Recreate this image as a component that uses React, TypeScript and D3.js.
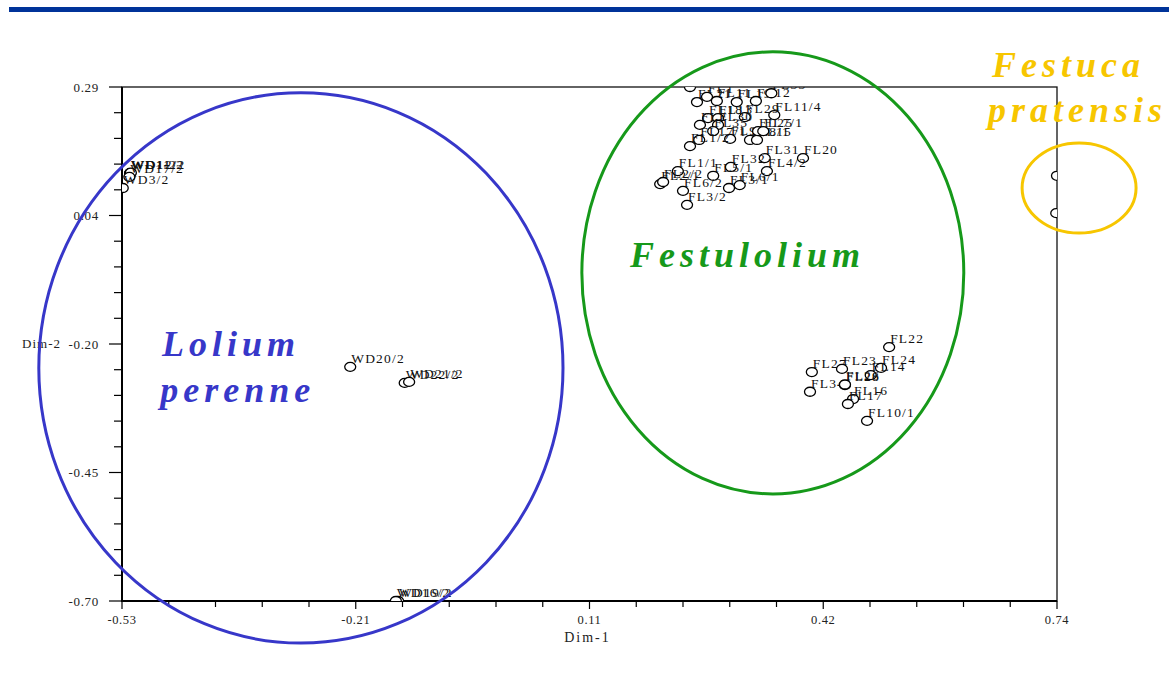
import React from 'react';
import * as d3 from 'd3';

// axis tick labels
const xTickLabels = ['-0.53', '-0.21', '0.11', '0.42', '0.74'];
const yTickLabels = ['0.29', '0.04', '-0.20', '-0.45', '-0.70'];

// Lolium perenne (WD)
const wdNames = ['WD1/2', 'WD11/2', 'WD12/2', 'WD17/2', 'WD3/2', 'WD20/2', 'WD22/2', 'WD21/2', 'WD19/2', 'WD16/2'];
const wdDim1 = [-0.519, -0.519, -0.518, -0.520, -0.529, -0.220, -0.146, -0.140, -0.155, -0.158];
const wdDim2 = [0.124, 0.124, 0.125, 0.117, 0.0955, -0.249, -0.280, -0.278, -0.700, -0.700];

// Festulolium (FL)
const flNames = [
  'FL8', 'FL21', 'FL1', 'FL11', 'FL19', 'FL12', 'FL33', 'FL11/4', 'FL29', 'FL18', 'FL13',
  'FL2', 'FL30', 'FL35', 'FL9/1', 'FL17/1', 'FL1/2', 'FL8/1', 'FL15', 'FL25', 'FL7/1',
  'FL31', 'FL20', 'FL32', 'FL4/2', 'FL1/1', 'FL2/1', 'FL2/2', 'FL5/1', 'FL6/2', 'FL3/1',
  'FL6/1', 'FL3/2',
  'FL22', 'FL27', 'FL23', 'FL24', 'FL14', 'FL34', 'FL28', 'FL26', 'FL16', 'FL17', 'FL10/1',
];
const flDim1 = [
  0.2415, 0.251, 0.2646, 0.278, 0.305, 0.331, 0.352, 0.356, 0.316, 0.266, 0.2796,
  0.255, 0.2796, 0.273, 0.296, 0.254, 0.2415, 0.323, 0.3325, 0.334, 0.341,
  0.343, 0.395, 0.297, 0.346, 0.225, 0.201, 0.205, 0.273, 0.232, 0.2945,
  0.309, 0.2375,
  0.512, 0.407, 0.448, 0.501, 0.487, 0.4045, 0.452, 0.452, 0.463, 0.456, 0.482,
];
const flDim2 = [
  0.29, 0.261, 0.271, 0.263, 0.261, 0.263, 0.278, 0.236, 0.232, 0.230, 0.230,
  0.217, 0.217, 0.205, 0.19, 0.188, 0.176, 0.188, 0.188, 0.205, 0.205,
  0.153, 0.153, 0.136, 0.128, 0.128, 0.103, 0.107, 0.119, 0.090, 0.0955,
  0.101, 0.063,
  -0.211, -0.259, -0.253, -0.251, -0.265, -0.297, -0.284, -0.283, -0.311, -0.3206, -0.353,
];

// Festuca pratensis (FP)
const fpNames = ['FP1', 'FP2'];
const fpDim1 = [0.74, 0.739];
const fpDim2 = [0.119, 0.047];

const W = 1169;
const H = 680;
const left = 122, right = 1057, top = 87, bottom = 601;
const serif = '"Liberation Serif", "Times New Roman", serif';

const groups = [
  { name: ['Lolium', 'perenne'], color: '#3737c9', cx: -0.287, cy: -0.251, rx: 0.356, ry: 0.530,
    tx: [-0.4757, -0.478], ty: [-0.228, -0.3167] },
  { name: ['Festulolium'], color: '#16991a', cx: 0.354, cy: -0.068, rx: 0.2594, ry: 0.4257,
    tx: [0.160], ty: [-0.0567] },
  { name: ['Festuca', 'pratensis'], color: '#f7c600', cx: 0.770, cy: 0.0955, rx: 0.0774, ry: 0.0867,
    tx: [0.6518, 0.6463], ty: [0.309, 0.2226] },
];

export default function App() {
  const x = d3.scaleLinear().domain([-0.53, 0.74]).range([left, right]);
  const y = d3.scaleLinear().domain([-0.70, 0.29]).range([bottom, top]);

  const xMinor = d3.range(21).map(i => -0.53 + (i * 1.27) / 20);
  const yMinor = d3.range(21).map(i => 0.29 - (i * 0.99) / 20);

  const points = [
    ...wdNames.map((n, i) => ({ n, a: wdDim1[i], b: wdDim2[i] })),
    ...flNames.map((n, i) => ({ n, a: flDim1[i], b: flDim2[i] })),
    ...fpNames.map((n, i) => ({ n, a: fpDim1[i], b: fpDim2[i] })),
  ];

  return (
    <svg width={W} height={H} style={{ position: 'absolute', left: 0, top: 0, background: '#fff' }}
      fontFamily={serif}>
      <defs>
        <clipPath id="plot">
          <rect x={left} y={top} width={right - left} height={bottom - top} />
        </clipPath>
      </defs>
      <rect x={9} y={7} width={W - 9} height={5} fill="#003399" />

      {/* frame */}
      <rect x={left} y={top} width={right - left} height={bottom - top} fill="none" stroke="#111" strokeWidth={1.3} />
      <line x1={left} x2={left} y1={top} y2={bottom + 1} stroke="#000" strokeWidth={2} />
      <line x1={left} x2={right} y1={bottom} y2={bottom} stroke="#000" strokeWidth={2} />

      {/* y ticks */}
      {yMinor.map((v, i) => (
        <line key={'ym' + i} x1={i % 5 === 0 ? left - 13 : left - 8} x2={left} y1={y(v)} y2={y(v)}
          stroke="#000" strokeWidth={1.2} />
      ))}
      {yTickLabels.map((t, i) => (
        <text key={'yl' + i} x={left - 23} y={y(0.29 - i * 0.2475)} dy="0.35em" textAnchor="end"
          fontSize={13} letterSpacing={0.7} fill="#222">{t}</text>
      ))}

      {/* x ticks */}
      {xMinor.map((v, i) => (
        <line key={'xm' + i} x1={x(v)} x2={x(v)} y1={bottom} y2={bottom + (i % 5 === 0 ? 8 : 6)}
          stroke="#000" strokeWidth={1.2} />
      ))}
      {xTickLabels.map((t, i) => (
        <text key={'xl' + i} x={x(-0.53 + i * 0.3175)} y={624} textAnchor="middle"
          fontSize={12.5} letterSpacing={0.6} fill="#222">{t}</text>
      ))}

      <text x={(left + right) / 2 - 2} y={642} textAnchor="middle" fontSize={14} letterSpacing={2} fill="#222">Dim-1</text>
      <text x={61} y={343} dy="0.35em" textAnchor="end" fontSize={13} letterSpacing={1} fill="#222">Dim-2</text>

      {/* points */}
      <g clipPath="url(#plot)">
        {points.map((p, i) => (
          <g key={'p' + i}>
            <ellipse cx={x(p.a)} cy={y(p.b)} rx={5.5} ry={4.5} fill="#fff" stroke="#000" strokeWidth={1.3} />
            <text x={x(p.a) + 1} y={y(p.b) - 4} fontSize={13.5} letterSpacing={1.2} fill="#111">{p.n}</text>
          </g>
        ))}
      </g>

      {/* group outlines */}
      {groups.map((g, gi) => (
        <g key={'g' + gi}>
          <ellipse cx={x(g.cx)} cy={y(g.cy)} rx={x(g.rx) - x(0)} ry={y(0) - y(g.ry)}
            fill="none" stroke={g.color} strokeWidth={3} />
          {g.name.map((t, ti) => (
            <text key={ti} x={x(g.tx[ti])} y={y(g.ty[ti])} fill={g.color} fontSize={36}
              fontWeight="bold" fontStyle="italic" letterSpacing={5}>{t}</text>
          ))}
        </g>
      ))}
    </svg>
  );
}
